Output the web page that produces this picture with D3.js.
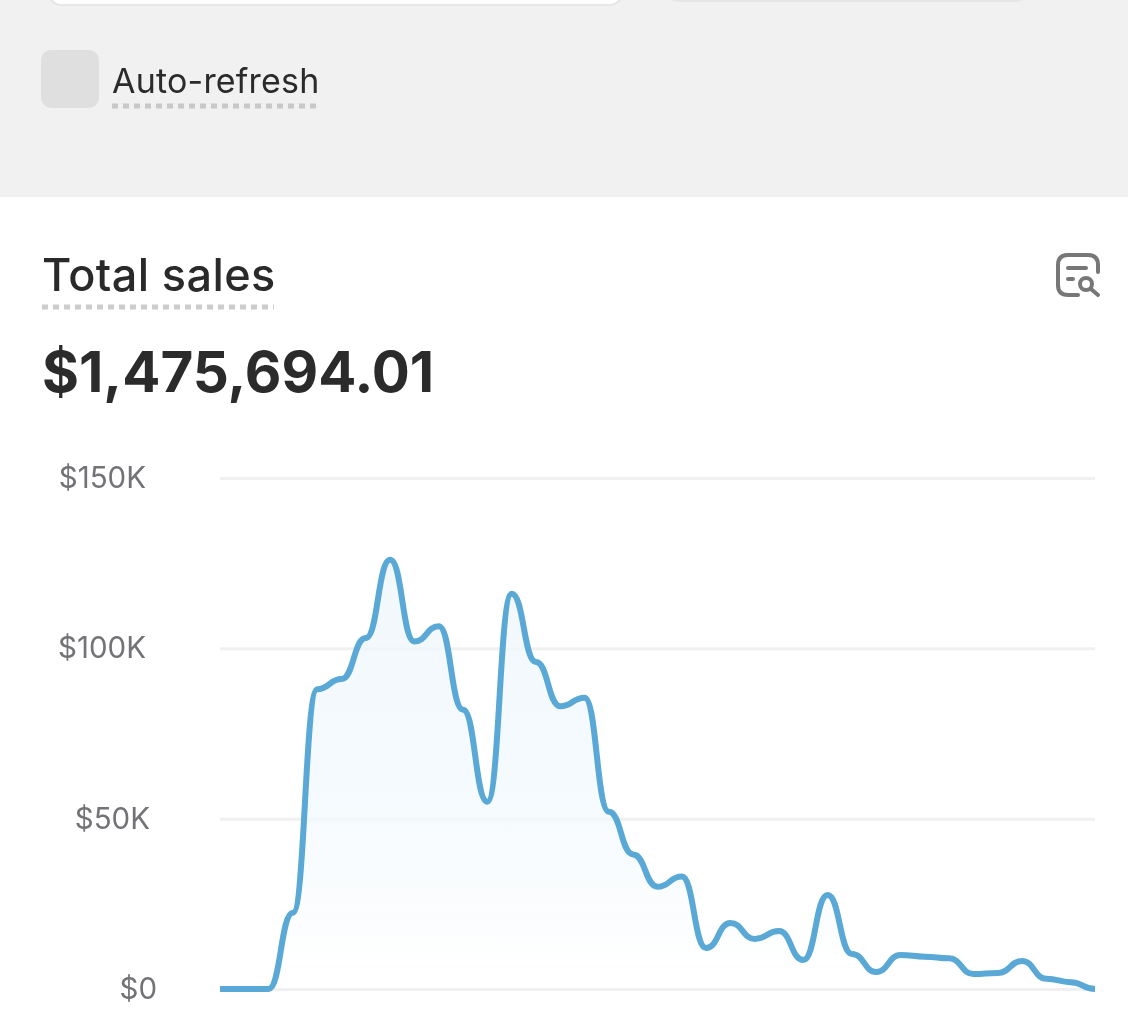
<!DOCTYPE html>
<html>
<head>
<meta charset="utf-8">
<script src="https://cdn.jsdelivr.net/npm/d3@7"></script>
<style>
  html, body { margin: 0; padding: 0; background: #fff; overflow: hidden; }
  text { font-family: Inter, "Noto Sans", sans-serif; }
  svg { filter: blur(0.6px); }
</style>
</head>
<body>
<div id="chart"></div>
<script>
// Values, in thousands of dollars
const salesValues = [
  0, 0, 0, 22.4, 88, 91, 103, 126, 102, 106.5,
  82, 55, 116, 96, 83, 85.5, 52, 39.5, 30, 33,
  12, 19.4, 14.7, 17, 8.5, 27.6, 10.3, 5, 10, 9.5,
  9, 4.4, 4.7, 8.2, 3, 2, 0
];
const periods = salesValues.map((d, i) => i);
const tickValues = [0, 50, 100, 150];
const tickLabels = ['$0', '$50K', '$100K', '$150K'];

const titleText = 'Total sales';
const totalText = '$1,475,694.01';
const toggleText = 'Auto-refresh';

const width = 1128;
const height = 1020;

const svg = d3.select('#chart')
  .append('svg')
  .attr('width', width)
  .attr('height', height);

const defs = svg.append('defs');

const areaGradient = defs.append('linearGradient')
  .attr('id', 'areaFill')
  .attr('x1', 0).attr('y1', 0)
  .attr('x2', 0).attr('y2', 1);
areaGradient.append('stop').attr('offset', '0%').attr('stop-color', '#eef6fb').attr('stop-opacity', 0.8);
areaGradient.append('stop').attr('offset', '55%').attr('stop-color', '#f2f9fd').attr('stop-opacity', 0.8);
areaGradient.append('stop').attr('offset', '85%').attr('stop-color', '#f8fbfd').attr('stop-opacity', 0.5);
areaGradient.append('stop').attr('offset', '100%').attr('stop-color', '#ffffff').attr('stop-opacity', 0);

// Grey filter panel behind the chart card
svg.append('rect')
  .attr('width', width)
  .attr('height', 197)
  .attr('fill', '#f1f1f1');

// Cards cut off by the top edge
svg.append('rect')
  .attr('x', 48).attr('y', -40)
  .attr('width', 575).attr('height', 45)
  .attr('rx', 14)
  .attr('fill', '#fff')
  .attr('stroke', '#e2e2e2')
  .attr('stroke-width', 1.5);
svg.append('rect')
  .attr('x', 665).attr('y', -40)
  .attr('width', 365).attr('height', 42)
  .attr('rx', 14)
  .attr('fill', '#e6e6e6');

// Auto-refresh toggle
svg.append('rect')
  .attr('x', 41).attr('y', 50)
  .attr('width', 58).attr('height', 58)
  .attr('rx', 10)
  .attr('fill', '#dfdfdf');
svg.append('text')
  .attr('x', 112).attr('y', 93)
  .attr('font-size', 34)
  .attr('letter-spacing', 0.2)
  .attr('fill', '#2b2b2b')
  .text(toggleText);
svg.append('line')
  .attr('x1', 112).attr('x2', 320)
  .attr('y1', 106).attr('y2', 106)
  .attr('stroke', '#c8c8c8')
  .attr('stroke-width', 5)
  .attr('stroke-dasharray', '6 5');

// Card header
svg.append('text')
  .attr('x', 42).attr('y', 291)
  .attr('font-size', 45)
  .attr('font-weight', 500)
  .attr('letter-spacing', 0.4)
  .attr('fill', '#2a2a2a')
  .text(titleText);
svg.append('line')
  .attr('x1', 42).attr('x2', 274)
  .attr('y1', 307).attr('y2', 307)
  .attr('stroke', '#cccccc')
  .attr('stroke-width', 5)
  .attr('stroke-dasharray', '6 5');
svg.append('text')
  .attr('x', 42).attr('y', 392)
  .attr('font-size', 56.5)
  .attr('font-weight', 700)
  .attr('fill', '#2b2b2b')
  .text(totalText);

// Report icon, top right of the card
const icon = svg.append('g')
  .attr('fill', 'none')
  .attr('stroke', '#777777')
  .attr('stroke-width', 4)
  .attr('stroke-linecap', 'round');
icon.append('path').attr('d', 'M1078 295H1068Q1058 295 1058 285V265Q1058 255 1068 255H1088Q1098 255 1098 265V272');
icon.append('path').attr('d', 'M1068 268H1086M1068 279H1073');
icon.append('circle').attr('cx', 1086).attr('cy', 284).attr('r', 6);
icon.append('path').attr('d', 'M1091 289L1098 295');

// Scales
const x = d3.scaleLinear()
  .domain(d3.extent(periods))
  .range([220, 1095]);
const y = d3.scaleLinear()
  .domain([0, 150])
  .range([989, 478]);

// Y axis with gridlines
const yAxis = d3.axisLeft(y)
  .tickValues(tickValues)
  .tickFormat((d, i) => tickLabels[i])
  .tickSize(-(1095 - 220))
  .tickPadding(74);

const axisG = svg.append('g')
  .attr('transform', 'translate(220,0)')
  .call(yAxis);
axisG.select('.domain').remove();
axisG.selectAll('.tick line')
  .attr('stroke', '#f0f0f0')
  .attr('stroke-width', 3);
// the shorter labels sit further right than the long ones in the source
const labelShift = { 0: 11, 50: 4, 100: 0, 150: 0 };
axisG.selectAll('.tick text')
  .attr('font-size', 29.5)
  .attr('font-family', 'Inter, sans-serif')
  .attr('fill', '#737377')
  .attr('dy', '0.32em')
  .attr('dx', d => labelShift[d]);

const area = d3.area()
  .x((d, i) => x(periods[i]))
  .y0(y(0))
  .y1(d => y(d))
  .curve(d3.curveBumpX);

const line = d3.line()
  .x((d, i) => x(periods[i]))
  .y(d => y(d))
  .curve(d3.curveBumpX);

svg.append('path')
  .datum(salesValues)
  .attr('d', area)
  .attr('fill', 'url(#areaFill)');

svg.append('path')
  .datum(salesValues)
  .attr('d', line)
  .attr('fill', 'none')
  .attr('stroke', '#5aa8d6')
  .attr('stroke-width', 6)
  .attr('stroke-linejoin', 'round');
</script>
</body>
</html>
